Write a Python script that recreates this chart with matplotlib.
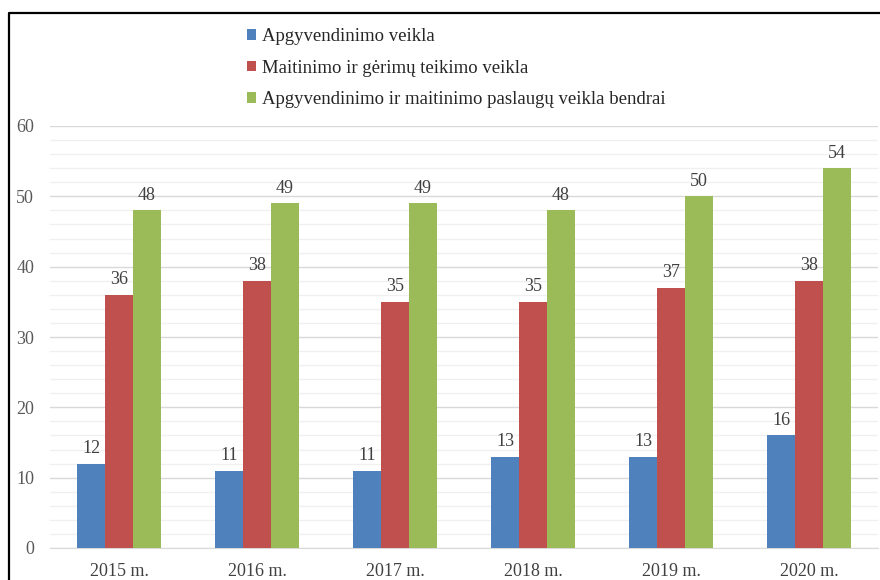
import matplotlib
matplotlib.use("Agg")
import matplotlib.pyplot as plt
import numpy as np
from matplotlib.patches import Patch
from matplotlib.lines import Line2D
from matplotlib.ticker import MultipleLocator

categories = ["2015 m.", "2016 m.", "2017 m.", "2018 m.", "2019 m.", "2020 m."]
series_names = ["Apgyvendinimo veikla",
                "Maitinimo ir gėrimų teikimo veikla",
                "Apgyvendinimo ir maitinimo paslaugų veikla bendrai"]
apgyvendinimo = [12, 11, 11, 13, 13, 16]
maitinimo = [36, 38, 35, 35, 37, 38]
bendrai = [48, 49, 49, 48, 50, 54]
colors = ["#4F81BD", "#C0504D", "#9BBB59"]

plt.rcParams['font.family'] = ['Liberation Serif', 'DejaVu Serif']

W, H = 880, 580
fig = plt.figure(figsize=(W/100, H/100), dpi=100)
ax = fig.add_axes([50/W, 1-548/H, (878-50)/W, (548-126)/H])

x = np.arange(len(categories))
bw = 0.203
for i, (vals, c) in enumerate(zip([apgyvendinimo, maitinimo, bendrai], colors)):
    pos = x + (i-1)*bw
    ax.bar(pos, vals, width=bw, color=c, zorder=3)
    for p, v in zip(pos, vals):
        ax.annotate(str(v), (p, v), xytext=(0, 7.5), textcoords='offset points',
                    ha='center', va='baseline', fontsize=13, color='#404040')

ax.set_xlim(-0.5, len(categories)-0.5)
ax.set_ylim(0, 60)
ax.yaxis.set_major_locator(MultipleLocator(10))
ax.yaxis.set_minor_locator(MultipleLocator(2))
ax.grid(axis='y', which='major', color='#D9D9D9', linewidth=1.0, zorder=0)
ax.grid(axis='y', which='minor', color='#F0F0F0', linewidth=1.0, zorder=0)
ax.set_axisbelow(True)
for s in ['top', 'right', 'left']:
    ax.spines[s].set_visible(False)
ax.spines['bottom'].set_color('#D9D9D9')
ax.set_xticks(x)
ax.set_xticklabels(categories, fontsize=13, color='#404040')
ax.tick_params(axis='x', length=0, pad=11)
ax.tick_params(axis='y', which='both', length=0, pad=11.5, labelsize=13, labelcolor='#595959')

handles = [Patch(facecolor=c, edgecolor='none') for c in colors]
fig.legend(handles, series_names, loc='upper left', bbox_to_anchor=(247/W, 1-28/H),
           frameon=False, fontsize=13.5, handlelength=0.5, handleheight=0.5,
           handletextpad=0.3, labelspacing=0.78, borderpad=0, borderaxespad=0,
           labelcolor='#262626')

# outer border (partially cropped)
fig.add_artist(Line2D([9/W, 9/W, 1.0], [0.0, 1-13/H, 1-13/H], color='black',
                      linewidth=1.6, transform=fig.transFigure))

fig.savefig("out.png", dpi=100)
